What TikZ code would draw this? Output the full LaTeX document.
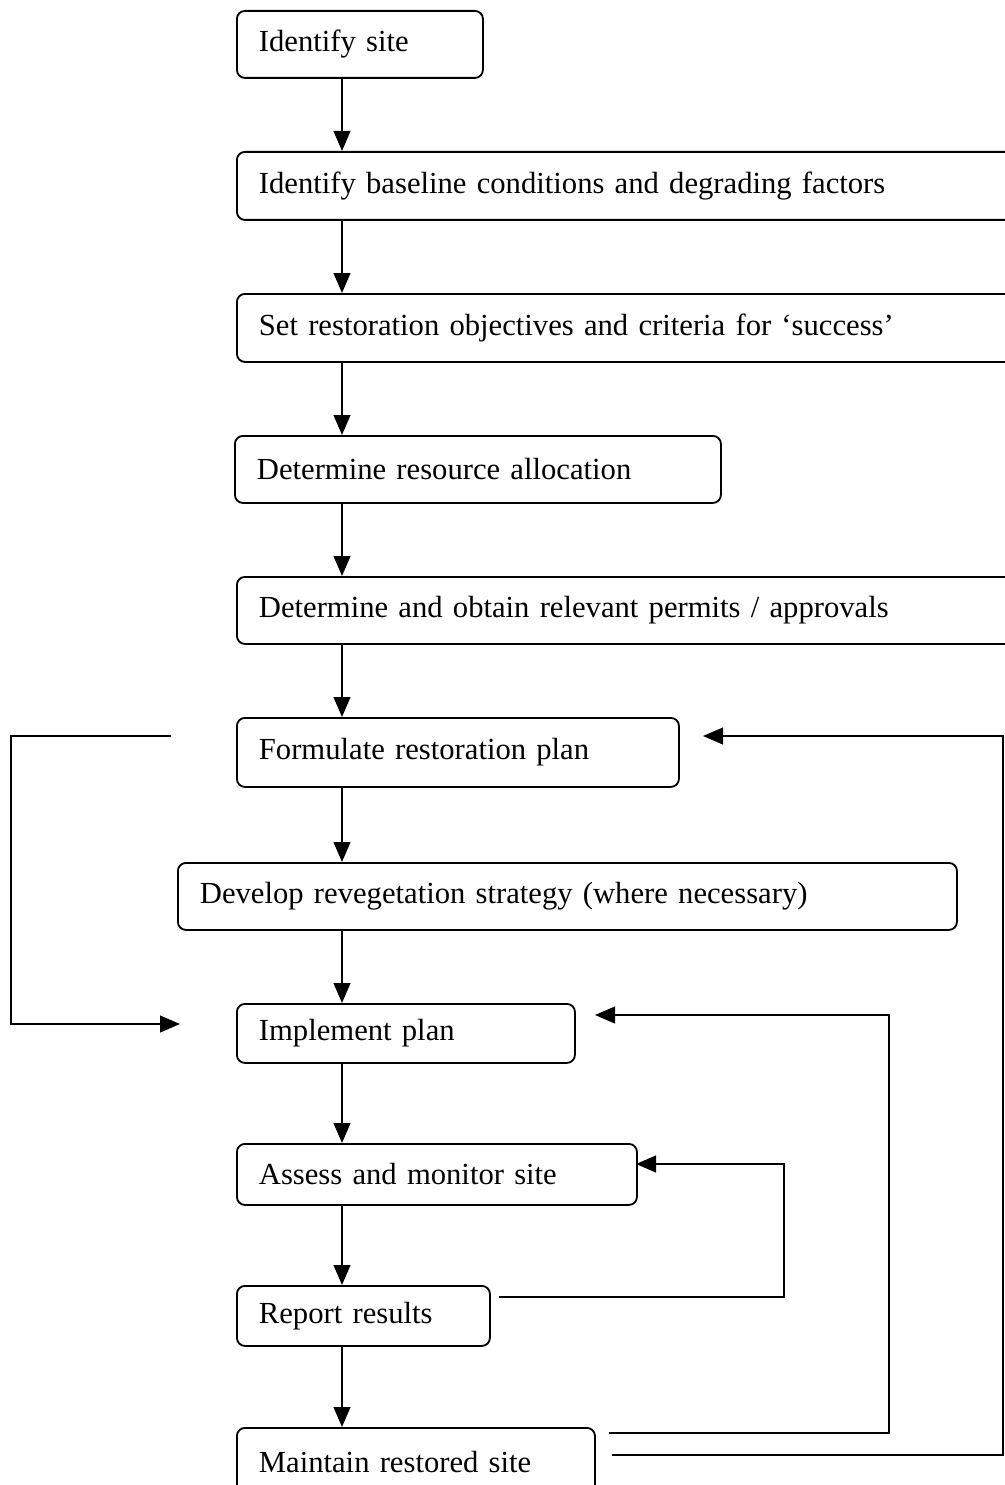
\documentclass[tikz,border=0pt]{standalone}
\usepackage{fontspec}
\setmainfont{Liberation Serif}
\usetikzlibrary{arrows.meta}

\begin{document}
\begin{tikzpicture}[
  stepbox/.style={draw, rectangle, rounded corners=0.2cm, line width=1.3pt, anchor=north west, inner xsep=0.55cm, inner ysep=0pt, align=left, font=\fontsize{21.8}{26}\selectfont},
  arrow/.style={-{Triangle[length=0.5cm, width=0.42cm]}, line width=1.2pt},
  loop/.style={line width=1.2pt}
]
\useasboundingbox (0,0) rectangle (25.1,-37.125);

% Main column of steps
\node[stepbox, text width=5.05cm, minimum height=1.675cm] (site) at (5.9, -0.25) {Identify site};
\node[stepbox, text width=18.3cm, minimum height=1.7cm] (baseline) at (5.9, -3.775) {Identify baseline conditions and degrading factors};
\node[stepbox, text width=18.3cm, minimum height=1.7cm] (objectives) at (5.9, -7.325) {Set restoration objectives and criteria for `success'};
\node[stepbox, text width=11.05cm, minimum height=1.675cm] (resources) at (5.85, -10.875) {Determine resource allocation};
\node[stepbox, text width=18.3cm, minimum height=1.675cm] (permits) at (5.9, -14.4) {Determine and obtain relevant permits / approvals};
\node[stepbox, text width=9.95cm, minimum height=1.725cm] (plan) at (5.9, -17.925) {Formulate restoration plan};
\node[stepbox, text width=18.375cm, minimum height=1.675cm] (reveg) at (4.425, -21.55) {Develop revegetation strategy (where necessary)};
\node[stepbox, text width=7.35cm, minimum height=1.475cm] (implement) at (5.9, -25.075) {Implement plan};
\node[stepbox, text width=8.9cm, minimum height=1.525cm] (monitor) at (5.9, -28.575) {Assess and monitor site};
\node[stepbox, text width=5.225cm, minimum height=1.5cm] (report) at (5.9, -32.125) {Report results};
\node[stepbox, text width=7.85cm, minimum height=1.7cm] (maintain) at (5.9, -35.675) {Maintain restored site};

% Spine of the downward arrows
\coordinate (spine) at (8.55, 0);
\foreach \a/\b in {site/baseline, baseline/objectives, objectives/resources, resources/permits, permits/plan, plan/reveg, reveg/implement, implement/monitor, monitor/report, report/maintain}
  \draw[arrow] (\a.south -| spine) -- (\b.north -| spine);

% Loop ends
\coordinate (skipstart) at (4.275, -18.4);
\coordinate (skipend) at (4.5, -25.6);
\coordinate (plantip) at (17.575, -18.4);
\coordinate (impltip) at (14.875, -25.375);
\coordinate (montip) at (15.9, -29.1);
\coordinate (mainlow) at (15.3, -36.375);
\coordinate (mainhigh) at (15.225, -35.825);
\coordinate (reportout) at (12.475, -32.425);

% Feedback loops
\draw[loop, -{Triangle[length=0.5cm, width=0.42cm]}] (skipstart) -- (0.275, -18.4) -- (0.275, -25.6) -- (skipend);
\draw[loop, -{Triangle[length=0.5cm, width=0.42cm]}] (mainlow) -- (25.075, -36.375) -- (25.075, -18.4) -- (plantip);
\draw[loop, -{Triangle[length=0.5cm, width=0.42cm]}] (mainhigh) -- (22.225, -35.825) -- (22.225, -25.375) -- (impltip);
\draw[loop, -{Triangle[length=0.5cm, width=0.42cm]}] (reportout) -- (19.6, -32.425) -- (19.6, -29.1) -- (montip);

\end{tikzpicture}
\end{document}
